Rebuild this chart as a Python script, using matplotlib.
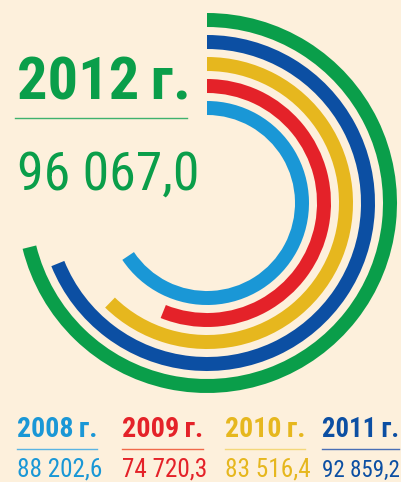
import numpy as np
import matplotlib
matplotlib.use("Agg")
import matplotlib.pyplot as plt
from matplotlib import font_manager as fm

# data: yearly totals
years = ["2008\u2009г.", "2009\u2009г.", "2010\u2009г.", "2011\u2009г.", "2012\u2009г."]
values = [88202.6, 74720.3, 83516.4, 92859.2, 96067.0]
value_labels = ["88 202,6", "74 720,3", "83 516,4", "92 859,2", "96 067,0"]
colors = ["#1a97d6", "#e42229", "#e6b71e", "#0c4fa3", "#0a9e4a"]
line_colors = ["#5bb4e2", "#f06a4a", "#f3d77a", "#4a6fb5", "#3fb26e"]
bg = "#fdf0dc"

# ring scale: value -> sweep angle (degrees, clockwise from 12 o'clock)
scale_dom = [70000, 100000]
scale_deg = [190, 266]


def pick_font(cands):
    for c in cands:
        try:
            fm.findfont(fm.FontProperties(family=c), fallback_to_default=False)
            return c
        except ValueError:
            pass
    return "DejaVu Sans"


font = pick_font(["Roboto Condensed", "Liberation Sans Narrow", "DejaVu Sans"])
stretch = "condensed" if font == "DejaVu Sans" else "normal"

fig = plt.figure(figsize=(4.01, 4.82), dpi=100, facecolor=bg)
ax = fig.add_axes([0, 0, 1, 1])
ax.set_xlim(0, 401)
ax.set_ylim(482, 0)
ax.axis("off")

# polar axes, 1 radial unit == 1 pixel, centre at (207, 203)
cx, cy, R = 207, 203, 200
pax = fig.add_axes([(cx - R) / 401, (482 - cy - R) / 482, 2 * R / 401, 2 * R / 482],
                   projection="polar")
pax.set_theta_zero_location("N")
pax.set_theta_direction(-1)
pax.set_ylim(0, R)
pax.axis("off")
pax.patch.set_visible(False)

band = 14
for i, v in enumerate(values):
    r_mid = 183 - 22 * (len(values) - 1 - i)
    sweep = np.deg2rad(np.interp(v, scale_dom, scale_deg))
    pax.bar(0, band, width=sweep, bottom=r_mid - band / 2, align="edge",
            color=colors[i], linewidth=0)

renderer = fig.canvas.get_renderer()


def fit_text(x, y, s, width, size, color, weight="normal"):
    t = ax.text(x, y, s, color=color, fontsize=size, fontweight=weight,
                family=[font, "DejaVu Sans"], fontstretch=stretch,
                ha="left", va="baseline")
    w = t.get_window_extent(renderer).width
    t.set_fontsize(size * width / w)
    return t


# headline for 2012
fit_text(17, 100, years[-1], 174, 44, colors[-1], "heavy")
ax.plot([15, 187], [118, 118], color=line_colors[-1], lw=1)
fit_text(17, 190, value_labels[-1], 182, 44, colors[-1])

# bottom legend for 2008-2011
col_x = [17, 122, 225, 322]
col_w = [80, 81, 80, 77]
val_w = [86, 86, 86, 78]
for i in range(4):
    x0 = col_x[i]
    fit_text(x0, 437, years[i], col_w[i], 14, colors[i], "heavy")
    ax.plot([x0, x0 + col_w[i]], [449, 449], color=line_colors[i], lw=1)
    fit_text(x0, 477, value_labels[i], val_w[i], 16, colors[i])

fig.savefig("out.png", dpi=100, facecolor=bg)
